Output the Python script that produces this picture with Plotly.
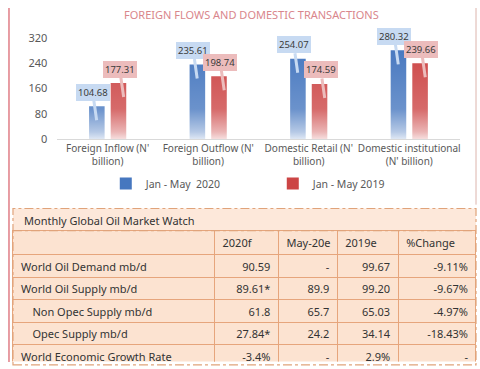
import plotly.graph_objects as go

W, H = 480, 369

# ---------------- data ----------------
categories = ["Foreign Inflow (N'<br>billion)", "Foreign Outflow (N'<br>billion)",
              "Domestic Retail (N'<br>billion)", "Domestic institutional<br>(N' billion)"]
series_2020 = [104.68, 235.61, 254.07, 280.32]
series_2019 = [177.31, 198.74, 174.59, 239.66]
series_names = ["Jan - May\u00a0\u00a02020", "Jan - May 2019"]
y_ticks = [0, 80, 160, 240, 320]

table_title = "Monthly Global Oil Market Watch"
table_header = ["", "2020f", "May-20e", "2019e", "%Change"]
row_labels = ["World Oil Demand mb/d", "World Oil Supply mb/d",
              "\u00a0\u00a0\u00a0\u00a0Non Opec Supply mb/d", "\u00a0\u00a0\u00a0\u00a0Opec Supply mb/d",
              "World Economic Growth Rate"]
col_2020f = ["90.59", "89.61*", "61.8", "27.84*", "-3.4%"]
col_may20e = ["-", "89.9", "65.7", "24.2", "-"]
col_2019e = ["99.67", "99.20", "65.03", "34.14", "2.9%"]
col_change = ["-9.11%", "-9.67%", "-4.97%", "-18.43%", "-"]

# ---------------- helpers ----------------
def px(x):
    return x / W

def py(y):
    return 1 - y / H

FONT = "Noto Sans"
BLUE = "#4677bf"
RED = "#cc4545"
BLUE_BUBBLE = "#c7daf2"
RED_BUBBLE = "#ecbcbc"

fig = go.Figure()

fig.add_trace(go.Bar(x=list(range(len(categories))), y=series_2020, name=series_names[0],
                     marker=dict(color=BLUE, line=dict(width=0)), hoverinfo="skip"))
fig.add_trace(go.Bar(x=list(range(len(categories))), y=series_2019, name=series_names[1],
                     marker=dict(color=RED, line=dict(width=0)), hoverinfo="skip"))

# white vertical fade over the bar bottoms
n = len(categories)
fade_top = 300
fig.add_trace(go.Scatter(
    x=[-0.5, n - 0.5, n - 0.5, -0.5], y=[0, 0, fade_top, fade_top],
    fill="toself", mode="lines", line=dict(width=0, color="rgba(255,255,255,0)"),
    fillgradient=dict(type="vertical", start=0, stop=fade_top,
                      colorscale=[[0, "rgba(255,255,255,0.97)"], [0.12, "rgba(255,255,255,0.6)"],
                                  [0.35, "rgba(255,255,255,0.2)"], [1, "rgba(255,255,255,0)"]]),
    showlegend=False, hoverinfo="skip"))

# data label callouts
annotations = []
for vals, shift, bub in ((series_2020, -14, BLUE_BUBBLE), (series_2019, 13, RED_BUBBLE)):
    for i, v in enumerate(vals):
        annotations.append(dict(
            x=i, y=v, xref="x", yref="y", text=f"{v:.2f}",
            xshift=shift + 3, yshift=-14, showarrow=True, arrowhead=0, arrowwidth=3,
            arrowcolor=bub, ax=-4, ay=-28, standoff=0,
            bgcolor=bub, borderpad=2, borderwidth=0,
            font=dict(family=FONT, size=9.5, color="#3a3a3a")))

# title
annotations.append(dict(x=px(252), y=py(7), xref="paper", yref="paper",
                        xanchor="center", yanchor="middle",
                        text="FOREIGN FLOWS AND DOMESTIC TRANSACTIONS", showarrow=False,
                        font=dict(family=FONT, size=11, color="#d9868c")))
# table title
annotations.append(dict(x=px(22), y=py(221), xref="paper", yref="paper",
                        xanchor="left", yanchor="middle",
                        text=table_title, showarrow=False,
                        font=dict(family=FONT, size=11, color="#333333")))

# table
fig.add_trace(go.Table(
    domain=dict(x=[px(13), px(477)], y=[0, py(232)]),
    columnwidth=[202, 64, 59, 61, 78],
    header=dict(values=table_header, height=24, align="left",
                fill=dict(color="#fce3d1"), line=dict(color="#e6a57c", width=1),
                font=dict(family=FONT, size=11, color="#333333")),
    cells=dict(values=[row_labels, col_2020f, col_may20e, col_2019e, col_change],
               height=22.5, align=["left", "right", "right", "right", "right"],
               fill=dict(color="#fce3d1"), line=dict(color="#e6a57c", width=1),
               font=dict(family=FONT, size=11, color="#333333"))))

shapes = [
    # table title row background
    dict(type="rect", xref="paper", yref="paper", x0=px(13), x1=px(477), y0=py(232), y1=py(209),
         fillcolor="#fde8da", line=dict(width=0), layer="below"),
    # dash-dot outer border
    dict(type="rect", xref="paper", yref="paper", x0=px(13), x1=px(477), y0=py(372), y1=py(209),
         line=dict(color="#e0a37a", width=1.2, dash="dashdot"), layer="above"),
    dict(type="line", xref="paper", yref="paper", x0=px(13), x1=px(477), y0=py(232), y1=py(232),
         line=dict(color="#e0a37a", width=1.2, dash="dashdot"), layer="above"),
    # page borders
    dict(type="line", xref="paper", yref="paper", x0=px(9), x1=px(9), y0=0, y1=1,
         line=dict(color="#e07d86", width=1.5)),
    dict(type="line", xref="paper", yref="paper", x0=px(477), x1=px(477), y0=py(205), y1=1,
         line=dict(color="#dcb4ac", width=1)),
]

fig.update_layout(
    width=W, height=H, margin=dict(l=0, r=0, t=0, b=0),
    paper_bgcolor="white", plot_bgcolor="white",
    barmode="group", bargap=0.57, bargroupgap=0.28,
    font=dict(family=FONT, color="#595959"),
    xaxis=dict(domain=[px(57.5), px(460.5)], range=[-0.5, n - 0.5],
               tickmode="array", tickvals=list(range(n)), ticktext=categories,
               showline=True, linecolor="#d9d9d9", linewidth=1, showgrid=False,
               ticks="", tickfont=dict(family=FONT, size=10, color="#595959"), fixedrange=True),
    yaxis=dict(domain=[py(137), py(31)], range=[0, 320], tickvals=y_ticks,
               showgrid=False, zeroline=False, showline=False, ticks="", ticklabelstandoff=9,
               tickfont=dict(family=FONT, size=11, color="#595959"), fixedrange=True),
    legend=dict(orientation="h", x=px(106), xanchor="left", y=py(183), yanchor="middle",
                entrywidth=122, entrywidthmode="pixels", itemwidth=30,
                font=dict(family=FONT, size=10.5, color="#595959"), bgcolor="rgba(0,0,0,0)"),
    annotations=annotations, shapes=shapes,
)

fig.write_html("out.html", config={"displayModeBar": False},
               post_script="document.body.style.margin='0';document.body.style.padding='0';"
                           "document.documentElement.style.overflow='hidden';")
